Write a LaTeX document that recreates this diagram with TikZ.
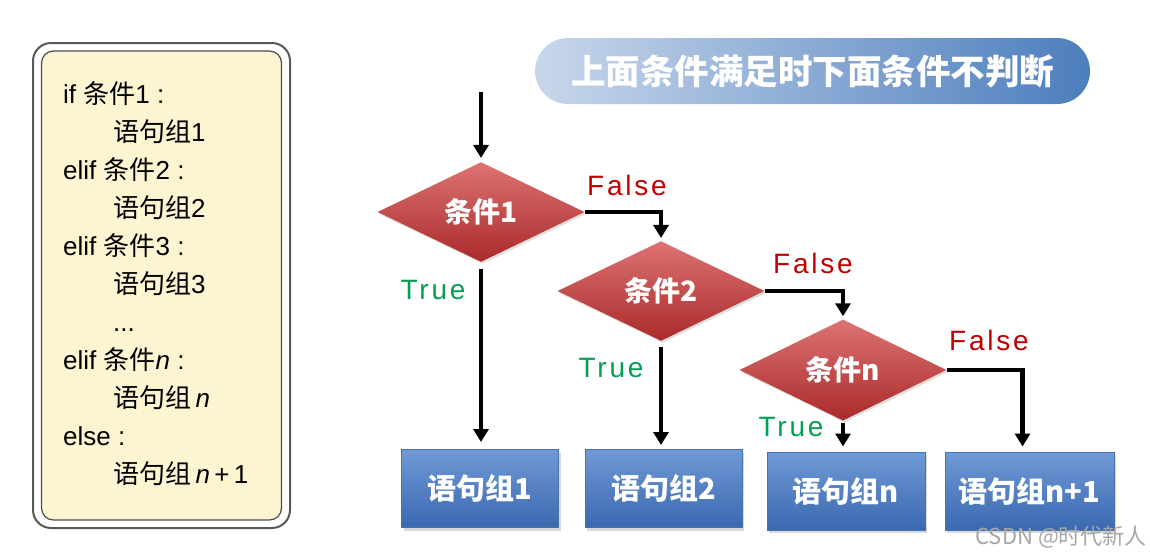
\documentclass[tikz,border=0pt]{standalone}
\usepackage{fontspec}
\setmainfont{Liberation Sans}
\newfontfamily\cjk{Noto Sans CJK SC}
\newfontfamily\lblfont{Liberation Sans}[LetterSpace=10]
\usetikzlibrary{shapes.geometric,arrows.meta,shadows}
\definecolor{codebg}{HTML}{FDF4D2}
\definecolor{tleft}{HTML}{C8D7EB}
\definecolor{tright}{HTML}{4C7EBD}
\definecolor{dtop}{HTML}{DD7373}
\definecolor{dbot}{HTML}{AA2A2A}
\definecolor{btop}{HTML}{7099D6}
\definecolor{bbot}{HTML}{3A69B0}
\definecolor{bline}{HTML}{4A72AA}
\definecolor{falsered}{HTML}{C00000}
\definecolor{truegreen}{HTML}{00A050}
\tikzset{
  code/.style={anchor=base west, inner sep=0, font=\fontsize{26}{30}\selectfont},
  diam/.style={diamond, minimum width=207, minimum height=93, inner sep=0,
    top color=dtop, bottom color=dbot, text=white,
    font=\cjk\bfseries\fontsize{28}{31}\selectfont,
    drop shadow={shadow xshift=1.5pt, shadow yshift=-2pt, opacity=0.25}},
  stmt/.style={rectangle, minimum height=78, inner sep=0, draw=bline, line width=1,
    top color=btop, bottom color=bbot, text=white,
    font=\cjk\bfseries\fontsize{29}{33}\selectfont,
    drop shadow={shadow xshift=2pt, shadow yshift=-3pt, opacity=0.3}},
  conn/.style={line width=4.5, -{Triangle[length=13pt,width=15pt]}},
  flbl/.style={text=falsered, inner sep=0, font=\lblfont\fontsize{28}{30}\selectfont},
  tlbl/.style={text=truegreen, inner sep=0, font=\lblfont\fontsize{28}{30}\selectfont},
}
\begin{document}
\begin{tikzpicture}[x=1pt,y=-1pt]
\useasboundingbox (0,0) rectangle (1150,555);
% code panel
\node[draw=black!65, line width=2, rounded corners=18, fill=white,
  minimum width=257, minimum height=485, inner sep=0] (outer) at (161.5,285.5) {};
\node[draw=black!70, line width=1.2, rounded corners=12, fill=codebg,
  minimum width=240, minimum height=469, inner sep=0] (inner) at (161.5,285.5) {};
\node[code] (c1) at (63,103) {if {\cjk 条件}1 :};
\node[code] (c2) at (113,141) {{\cjk 语句组}1};
\node[code] (c3) at (63,179) {elif {\cjk 条件}2 :};
\node[code] (c4) at (113,217) {{\cjk 语句组}2};
\node[code] (c5) at (63,255) {elif {\cjk 条件}3 :};
\node[code] (c6) at (113,293) {{\cjk 语句组}3};
\node[code] (c7) at (113,331) {...};
\node[code] (c8) at (63,369) {elif {\cjk 条件}\textit{n} :};
\node[code] (c9) at (113,407) {{\cjk 语句组}\,\textit{n}};
\node[code] (c10) at (63,445) {else :};
\node[code] (c11) at (113,483) {{\cjk 语句组}\,\textit{n}\,+\,1};
% title
\node[rounded corners=33, minimum width=555, minimum height=66, inner sep=0,
  left color=tleft, right color=tright, text=white,
  font=\cjk\bfseries\fontsize{34.5}{38}\selectfont] (title) at (812.5,71) {上面条件满足时下面条件不判断};
% diamonds
\node[diam] (d1) at (481,212) {条件1};
\node[diam] (d2) at (661,291) {条件2};
\node[diam] (d3) at (843,370) {条件n};
% statement boxes
\node[stmt, minimum width=157] (b1) at (480,488.5) {语句组1};
\node[stmt, minimum width=157] (b2) at (663.5,488.5) {语句组2};
\node[stmt, minimum width=158] (b3) at (846,491) {语句组n};
\node[stmt, minimum width=169] (b4) at (1029.5,491) {语句组n+1};
% connectors
\coordinate (start) at (481,92);
\draw[conn, shorten >=4pt] (start) -- (d1.north);
\draw[conn, shorten <=7pt, shorten >=7pt] (d1.south) -- (d1.south |- b1.north);
\draw[conn, shorten >=3pt] (d1.east) -| (d2.north);
\draw[conn, shorten <=6pt, shorten >=4pt] (d2.south) -- (d2.south |- b2.north);
\draw[conn, shorten >=3pt] (d2.east) -| (d3.north);
\draw[conn, shorten <=2pt, shorten >=5pt] (d3.south) -- (d3.south |- b3.north);
\coordinate (b4in) at ([xshift=-7pt]b4.north);
\draw[conn, shorten >=5pt] (d3.east) -| (b4in);
% labels
\node[flbl] (f1) at (627,185) {False};
\node[flbl] (f2) at (813,263) {False};
\node[flbl] (f3) at (989,340) {False};
\node[tlbl] (t1) at (433,290) {True};
\node[tlbl] (t2) at (611,368) {True};
\node[tlbl] (t3) at (791,427) {True};
% watermark
\node[anchor=east, inner sep=0, text=black!35, font=\cjk\fontsize{22}{25}\selectfont] (wm) at (1147,537) {CSDN @时代新人};
\end{tikzpicture}
\end{document}
